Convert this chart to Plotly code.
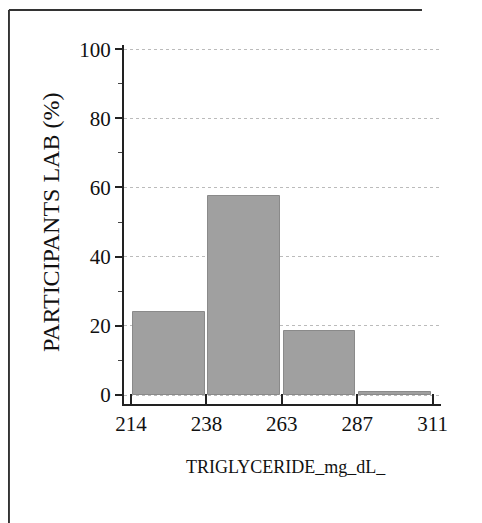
import plotly.graph_objects as go

bin_labels = ["214", "238", "263", "287", "311"]
bin_centers = [0.5, 1.5, 2.5, 3.5]
percent = [24, 57.5, 18.5, 1]
y_ticks = [0, 20, 40, 60, 80, 100]

font_family = "Liberation Serif"

fig = go.Figure()
fig.add_trace(go.Bar(
    x=bin_centers, y=percent, width=0.95,
    marker=dict(color="#a0a0a0", line=dict(color="#8a8a8a", width=1)),
    showlegend=False,
))

fig.update_layout(
    width=482, height=523,
    margin=dict(l=116, r=49, t=37, b=127),
    paper_bgcolor="white", plot_bgcolor="white",
    font=dict(family=font_family, color="#111111"),
    bargap=0,
    xaxis=dict(
        range=[-0.093, 4.11],
        tickmode="array", tickvals=[0, 1, 2, 3, 4], ticktext=bin_labels,
        ticks="inside", ticklen=10, tickwidth=2, tickcolor="#222",
        showline=True, linecolor="#222", linewidth=2,
        showgrid=False, zeroline=False,
        tickfont=dict(size=21, family=font_family, color="#111"),
    ),
    yaxis=dict(
        range=[-2.6, 101.2],
        tickvals=y_ticks,
        ticks="outside", ticklen=7, tickwidth=2, tickcolor="#222",
        minor=dict(dtick=10, tick0=0, ticks="outside", ticklen=4, tickwidth=1, tickcolor="#444", showgrid=False),
        showline=True, linecolor="#222", linewidth=2,
        showgrid=True, gridcolor="#bbbbbb", griddash="dot", gridwidth=1,
        zeroline=False,
        tickfont=dict(size=21, family=font_family, color="#111"),
    ),
    annotations=[
        dict(text="PARTICIPANTS LAB (%)", xref="paper", yref="paper",
             x=-0.23, y=0.507, xanchor="center", yanchor="middle", textangle=-90,
             showarrow=False, font=dict(size=24, family=font_family, color="#111")),
        dict(text="TRIGLYCERIDE_mg_dL_", xref="paper", yref="paper",
             x=0.51, y=-0.175, xanchor="center", yanchor="middle",
             showarrow=False, font=dict(size=18, family=font_family, color="#111")),
    ],
    shapes=[
        dict(type="line", xref="paper", yref="paper", x0=-0.363, x1=-0.363, y0=1.0975, y1=-0.45,
             line=dict(color="#333", width=2)),
        dict(type="line", xref="paper", yref="paper", x0=-0.363, x1=0.94, y0=1.0975, y1=1.0975,
             line=dict(color="#333", width=2)),
    ],
)

fig.write_html("out.html")
